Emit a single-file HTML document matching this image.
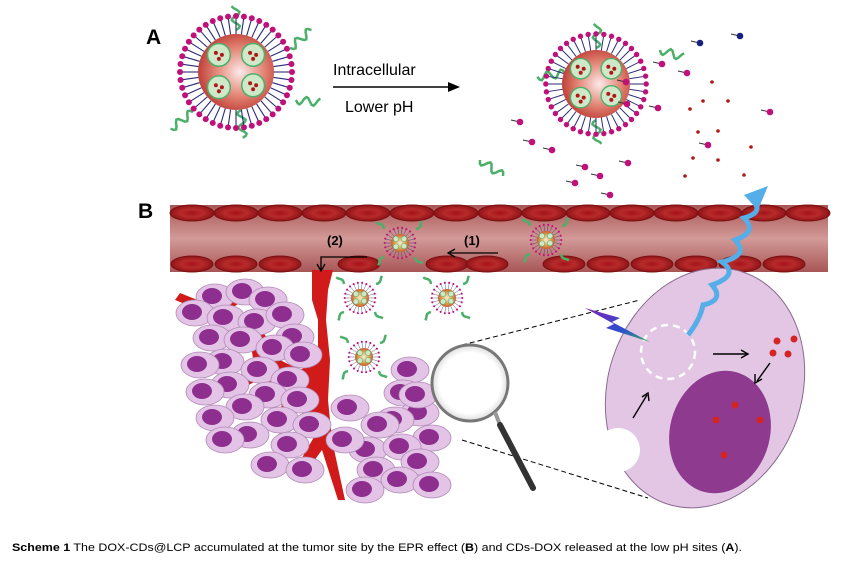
<!DOCTYPE html>
<html><head><meta charset="utf-8"><style>
html,body{margin:0;padding:0;background:#fff;width:842px;height:570px;overflow:hidden}
svg{display:block}
</style></head><body>
<svg id="s" width="842" height="570" viewBox="0 0 842 570" xmlns="http://www.w3.org/2000/svg">
<defs>
<radialGradient id="core" cx="0.55" cy="0.5" r="0.6">
<stop offset="0" stop-color="#fbeaea"/><stop offset="0.5" stop-color="#e58a7a"/><stop offset="1" stop-color="#b8322a"/></radialGradient>
<radialGradient id="core2" cx="0.5" cy="0.5" r="0.6">
<stop offset="0" stop-color="#f8f0d0"/><stop offset="0.5" stop-color="#e0a050"/><stop offset="1" stop-color="#b84020"/></radialGradient>
<linearGradient id="vessel" x1="0" y1="0" x2="0" y2="1">
<stop offset="0" stop-color="#a85656"/><stop offset="0.5" stop-color="#d29a98"/><stop offset="1" stop-color="#a85656"/></linearGradient>
<radialGradient id="rbc" cx="0.5" cy="0.5" r="0.5"><stop offset="0" stop-color="#a3141a"/><stop offset="0.5" stop-color="#b82a2a"/><stop offset="1" stop-color="#8e1418"/></radialGradient>
<radialGradient id="lens" cx="0.5" cy="0.5" r="0.5"><stop offset="0.8" stop-color="#fff"/><stop offset="1" stop-color="#ddd"/></radialGradient>
<linearGradient id="bolt" x1="0" y1="0" x2="1" y2="1"><stop offset="0" stop-color="#8a1fb0"/><stop offset="0.6" stop-color="#2a4ed0"/><stop offset="1" stop-color="#3ab060"/></linearGradient>
</defs>
<g id="A"></g>
<text x="146" y="44" font-family="Liberation Sans,sans-serif" font-weight="bold" font-size="21">A</text>
<text x="333" y="75" font-family="Liberation Sans,sans-serif" font-size="16">Intracellular</text>
<text x="345" y="112" font-family="Liberation Sans,sans-serif" font-size="16">Lower pH</text>
<line x1="333" y1="87" x2="450" y2="87" stroke="#000" stroke-width="1.5"/>
<polygon points="448,82 460,87 448,92" fill="#000"/>
<text x="138" y="218" font-family="Liberation Sans,sans-serif" font-weight="bold" font-size="21">B</text>
<rect x="170" y="205" width="658" height="67" fill="url(#vessel)"/>
<g id="rbcs"></g>
<g id="tumor"></g>
<g id="B"></g>
<text x="327" y="245" font-family="Liberation Sans,sans-serif" font-weight="bold" font-size="13">(2)</text>
<text x="464" y="245" font-family="Liberation Sans,sans-serif" font-weight="bold" font-size="13">(1)</text>
<line x1="498" y1="253" x2="450" y2="253" stroke="#000" stroke-width="1.3"/><polyline points="455,249 448,253 455,257" fill="none" stroke="#000" stroke-width="1.3"/>
<polyline points="367,257 321,257 321,270" fill="none" stroke="#000" stroke-width="1.3"/><polyline points="317,264 321,271 325,264" fill="none" stroke="#000" stroke-width="1.3"/>
<line x1="462" y1="345" x2="640" y2="300" stroke="#000" stroke-dasharray="5,3"/>
<line x1="462" y1="440" x2="648" y2="498" stroke="#000" stroke-dasharray="5,3"/>
<g transform="rotate(18 705 388)">
<ellipse cx="705" cy="388" rx="97" ry="122" fill="#e2c6e4" stroke="#8a6a8e"/>
</g>
<ellipse cx="720" cy="432" rx="50" ry="62" fill="#8d3a8f" transform="rotate(15 720 432)"/>
<circle cx="618" cy="450" r="22" fill="#fff"/>
<circle cx="668" cy="352" r="27" fill="none" stroke="#fff" stroke-width="2.5" stroke-dasharray="7,5"/>
<polygon points="585,308 620,318 612,322 650,342 606,328 614,324" fill="url(#bolt)"/>
<path d="M688 335 Q700 320 703 305 Q725 300 712 285 Q740 275 722 262 Q750 255 735 240 Q758 232 744 218 Q765 212 752 200" fill="none" stroke="#55aee8" stroke-width="5"/>
<polygon points="744,195 768,186 758,210" fill="#55aee8"/>
<g stroke="#000" stroke-width="1.4" fill="none">
<line x1="713" y1="354" x2="747" y2="354"/><polyline points="741,350 748,354 741,358"/>
<line x1="770" y1="363" x2="757" y2="381"/><polyline points="755,374 755,383 762,379"/>
<line x1="633" y1="418" x2="647" y2="395"/><polyline points="642,397 648,393 649,401"/>
</g>
<g fill="#d42424"><circle cx="777" cy="341" r="3.5"/><circle cx="794" cy="339" r="3.5"/><circle cx="773" cy="353" r="3.5"/><circle cx="788" cy="354" r="3.5"/>
<circle cx="735" cy="405" r="3.5"/><circle cx="716" cy="420" r="3.5"/><circle cx="760" cy="420" r="3.5"/><circle cx="724" cy="455" r="3.5"/></g>
<circle cx="470" cy="383" r="38" fill="url(#lens)" stroke="#777" stroke-width="3"/>
<line x1="495" y1="412" x2="500" y2="425" stroke="#999" stroke-width="4"/>
<line x1="500" y1="425" x2="533" y2="488" stroke="#333" stroke-width="6" stroke-linecap="round"/>
<text x="12" y="551" font-family="Liberation Sans,sans-serif" font-size="11" textLength="730" lengthAdjust="spacingAndGlyphs"><tspan font-weight="bold">Scheme 1</tspan> The DOX-CDs@LCP accumulated at the tumor site by the EPR effect (<tspan font-weight="bold">B</tspan>) and CDs-DOX released at the low pH sites (<tspan font-weight="bold">A</tspan>).</text>
</svg>
<script>
var NS="http://www.w3.org/2000/svg";
function el(p,t,a){var e=document.createElementNS(NS,t);for(var k in a)e.setAttribute(k,a[k]);p.appendChild(e);return e;}
function wave(g,x,y,ang,len,amp){var d="M"+x+" "+y;var c=Math.cos(ang),s=Math.sin(ang);for(var i=1;i<=len;i++){var t=i*2,w=Math.sin(i*0.9)*amp;d+=" L"+(x+c*t-s*w).toFixed(1)+" "+(y+s*t+c*w).toFixed(1);}el(g,"path",{d:d,fill:"none",stroke:"#4caf6a","stroke-width":2.5});}
function np(g,cx,cy,R,sc,n,full,cg){
 for(var i=0;i<n;i++){var a=i/n*Math.PI*2;var c=Math.cos(a),s=Math.sin(a);
  el(g,"line",{x1:cx+c*R,y1:cy+s*R,x2:cx+c*(R+16*sc),y2:cy+s*(R+16*sc),stroke:"#2a2a7a","stroke-width":1.1*sc});
  el(g,"circle",{cx:cx+c*(R+18*sc),cy:cy+s*(R+18*sc),r:3*sc,fill:"#c0117a"});}
 el(g,"circle",{cx:cx,cy:cy,r:R,fill:cg||"url(#core)"});
 var q=[[-0.45,-0.45],[0.45,-0.45],[-0.45,0.4],[0.45,0.35]];
 q.forEach(function(p){var x=cx+p[0]*R,y=cy+p[1]*R;el(g,"circle",{cx:x,cy:y,r:R*0.3,fill:"#cfe8c8",stroke:"#4caf6a","stroke-width":1.5*sc});
  if(full){el(g,"circle",{cx:x-3,cy:y-2,r:2,fill:"#b01818"});el(g,"circle",{cx:x+3,cy:y,r:2,fill:"#b01818"});el(g,"circle",{cx:x,cy:y+4,r:2,fill:"#b01818"});}});
}
var A=document.getElementById("A");
wave(A,236,30,-1.6,12,4);wave(A,290,48,-0.7,14,4);wave(A,296,100,0.1,12,4);wave(A,241,110,1.5,14,4);wave(A,193,112,2.5,14,4);
np(A,236,72,38,1,44,true);
wave(A,596,48,-1.5,12,4);wave(A,565,73,3.0,14,4);wave(A,596,120,1.5,12,4);
np(A,596,84,34,0.9,40,true);
wave(A,480,160,0.6,14,4);wave(A,660,50,0.3,12,4);
[[520,122],[532,142],[552,150],[575,183],[585,167],[626,82],[627,104],[658,108],[687,73],[700,43],[740,36],[662,64],[708,145],[628,163],[600,176],[610,195],[770,112]].forEach(function(p,i){
 el(A,"line",{x1:p[0]-9,y1:p[1]-2,x2:p[0],y2:p[1],stroke:"#333","stroke-width":1});
 el(A,"circle",{cx:p[0],cy:p[1],r:3.3,fill:(i==10||i==9)?"#1a2080":"#c0117a"});});
[[712,82],[703,101],[728,101],[690,109],[698,132],[718,131],[751,147],[693,158],[718,160],[685,176],[744,175]].forEach(function(p){el(A,"circle",{cx:p[0],cy:p[1],r:1.8,fill:"#b01818"});});
var R=document.getElementById("rbcs");
for(var x=192;x<828;x+=44){el(R,"ellipse",{cx:x,cy:213,rx:22,ry:8,fill:"url(#rbc)",stroke:"#7a1010"});}
[192,236,280,359,447,487,564,608,652,696,740,784].forEach(function(x){el(R,"ellipse",{cx:x,cy:264,rx:21,ry:8,fill:"url(#rbc)",stroke:"#7a1010"});});
var T=document.getElementById("tumor");
el(T,"path",{d:"M312 270 L333 270 L328 290 L326 320 L330 360 L328 400 L332 440 L345 500 L338 500 L322 450 L300 480 L295 470 L318 430 L290 400 L282 440 L278 430 L283 395 L258 380 L230 395 L228 385 L255 370 L250 340 L200 310 L175 300 L180 293 L210 305 L232 300 L240 290 L244 300 L232 308 L262 330 L280 360 L300 370 L318 360 L318 320 L312 300 Z",fill:"#d11a1a"});
var cells=[[215,297],[245,292],[268,300],[195,313],[226,318],[257,322],[285,315],[295,337],[212,338],[243,340],[275,348],[303,355],[225,362],[200,365],[260,370],[290,380],[230,385],[205,392],[268,395],[300,400],[245,407],[215,418],[280,420],[312,425],[250,435],[290,445],[225,440],[270,465],[305,470],[410,370],[403,393],[420,413],[395,420],[432,438],[380,425],[368,450],[402,447],[420,462],[376,470],[400,480],[365,490],[432,485],[345,440],[350,408],[418,395]];
cells.forEach(function(p){el(T,"ellipse",{cx:p[0],cy:p[1],rx:19,ry:13,fill:"#e3c3e6",stroke:"#b08ab4","stroke-width":0.8});el(T,"ellipse",{cx:p[0]-3,cy:p[1]-1,rx:10,ry:8,fill:"#8e2f90"});});
var B=document.getElementById("B");
[[400,243],[546,240],[360,298],[447,298],[364,357],[668,352]].forEach(function(p){
 wave(B,p[0]-16,p[1]-14,-2.3,5,1.5);wave(B,p[0]+15,p[1]+14,0.8,5,1.5);wave(B,p[0]+16,p[1]-14,-0.8,5,1.5);wave(B,p[0]-16,p[1]+14,2.3,5,1.5);
 np(B,p[0],p[1],9,0.35,22,false,"url(#core2)");});
</script>
</body></html>
